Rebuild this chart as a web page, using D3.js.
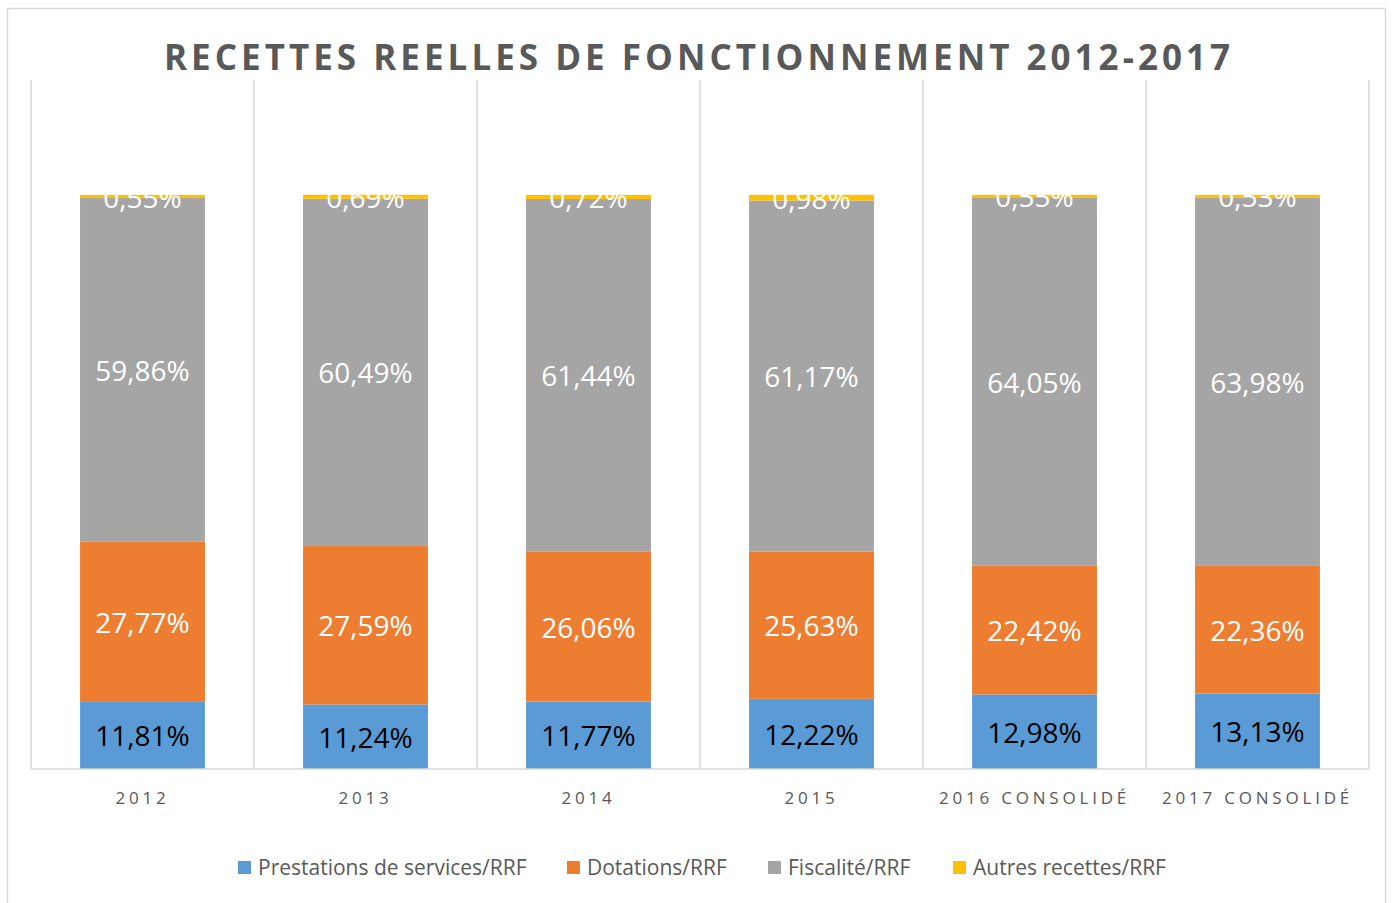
<!DOCTYPE html>
<html>
<head>
<meta charset="utf-8">
<script src="https://cdn.jsdelivr.net/npm/d3@7"></script>
<style>
  html, body { margin: 0; padding: 0; background: #fff; }
  svg { display: block; }
</style>
</head>
<body>
<svg id="chart" width="1394" height="903"></svg>
<script>
// catégories et séries (en %)
const categories = ["2012", "2013", "2014", "2015", "2016 CONSOLIDÉ", "2017 CONSOLIDÉ"];
const seriesNames = ["Prestations de services/RRF", "Dotations/RRF", "Fiscalité/RRF", "Autres recettes/RRF"];
const prestations = [11.81, 11.24, 11.77, 12.22, 12.98, 13.13];
const dotations = [27.77, 27.59, 26.06, 25.63, 22.42, 22.36];
const fiscalite = [59.86, 60.49, 61.44, 61.17, 64.05, 63.98];
const autres = [0.55, 0.69, 0.72, 0.98, 0.55, 0.53];
const colors = ["#5B9BD5", "#ED7D31", "#A5A5A5", "#FFC000"];
const labelColors = ["#000000", "#ffffff", "#ffffff", "#ffffff"];

const svg = d3.select("#chart");
const width = 1394, height = 903;
const margin = { top: 80, right: 25, bottom: 134, left: 31 };
const font = "'Open Sans', 'Noto Sans', sans-serif";

// cadre du graphique
svg.append("rect")
    .attr("x", 7.5).attr("y", 8.5)
    .attr("width", 1378).attr("height", 920)
    .attr("fill", "#fff").attr("stroke", "#d9d9d9").attr("stroke-width", 1.5);

// titre
svg.append("text")
    .attr("x", width / 2).attr("y", 70)
    .attr("text-anchor", "middle")
    .attr("font-family", font).attr("font-weight", "bold")
    .attr("font-size", 35).attr("fill", "#595959")
    .attr("textLength", 1066).attr("lengthAdjust", "spacing")
    .text("RECETTES REELLES DE FONCTIONNEMENT 2012-2017");

const data = categories.map((c, i) => ({
    cat: c, s0: prestations[i], s1: dotations[i], s2: fiscalite[i], s3: autres[i]
}));
const stack = d3.stack().keys(["s0", "s1", "s2", "s3"]);
const stacked = stack(data);

const x = d3.scaleBand()
    .domain(categories)
    .range([margin.left, width - margin.right])
    .paddingInner(0.44).paddingOuter(0.22);
const y = d3.scaleLinear().domain([0, 120]).range([height - margin.bottom, margin.top]);

// séparateurs verticaux
const step = x.step();
const seps = d3.range(categories.length + 1).map(i => margin.left + i * step);
svg.append("g").selectAll("line").data(seps).join("line")
    .attr("x1", d => d).attr("x2", d => d)
    .attr("y1", y(120)).attr("y2", y(0))
    .attr("stroke", "#d9d9d9").attr("stroke-width", 1.5);

// barres
const layers = svg.append("g").selectAll("g").data(stacked).join("g")
    .attr("fill", (d, i) => colors[i]);
layers.selectAll("rect").data(d => d).join("rect")
    .attr("x", d => x(d.data.cat))
    .attr("width", x.bandwidth())
    .attr("y", d => y(d[1]))
    .attr("height", d => y(d[0]) - y(d[1]));

// axe horizontal
svg.append("line")
    .attr("x1", margin.left).attr("x2", width - margin.right)
    .attr("y1", y(0)).attr("y2", y(0))
    .attr("stroke", "#d9d9d9").attr("stroke-width", 1.5);

// étiquettes de valeurs
const fmt = v => v.toFixed(2).replace(".", ",") + "%";
stacked.forEach((layer, i) => {
    svg.append("g").selectAll("text").data(layer).join("text")
        .attr("x", d => x(d.data.cat) + x.bandwidth() / 2)
        .attr("y", d => (y(d[0]) + y(d[1])) / 2 + 1)
        .attr("dy", "0.36em")
        .attr("text-anchor", "middle")
        .attr("font-family", font).attr("font-size", 28)
        .attr("fill", labelColors[i])
        .text(d => fmt(d[1] - d[0]));
});

// étiquettes de catégories
svg.append("g").selectAll("text").data(categories).join("text")
    .attr("x", d => x(d) + x.bandwidth() / 2)
    .attr("y", 804)
    .attr("text-anchor", "middle")
    .attr("font-family", font).attr("font-size", 17)
    .attr("letter-spacing", 3.8)
    .attr("fill", "#595959")
    .text(d => d);

// légende
const legendX = [238, 567, 768, 953];
const legend = svg.append("g").selectAll("g").data(seriesNames).join("g")
    .attr("transform", (d, i) => `translate(${legendX[i]},862)`);
legend.append("rect")
    .attr("width", 13).attr("height", 13).attr("y", -1)
    .attr("fill", (d, i) => colors[i]);
legend.append("text")
    .attr("x", 20).attr("y", 13)
    .attr("font-family", font).attr("font-size", 21)
    .attr("fill", "#595959")
    .text(d => d);
</script>
</body>
</html>
